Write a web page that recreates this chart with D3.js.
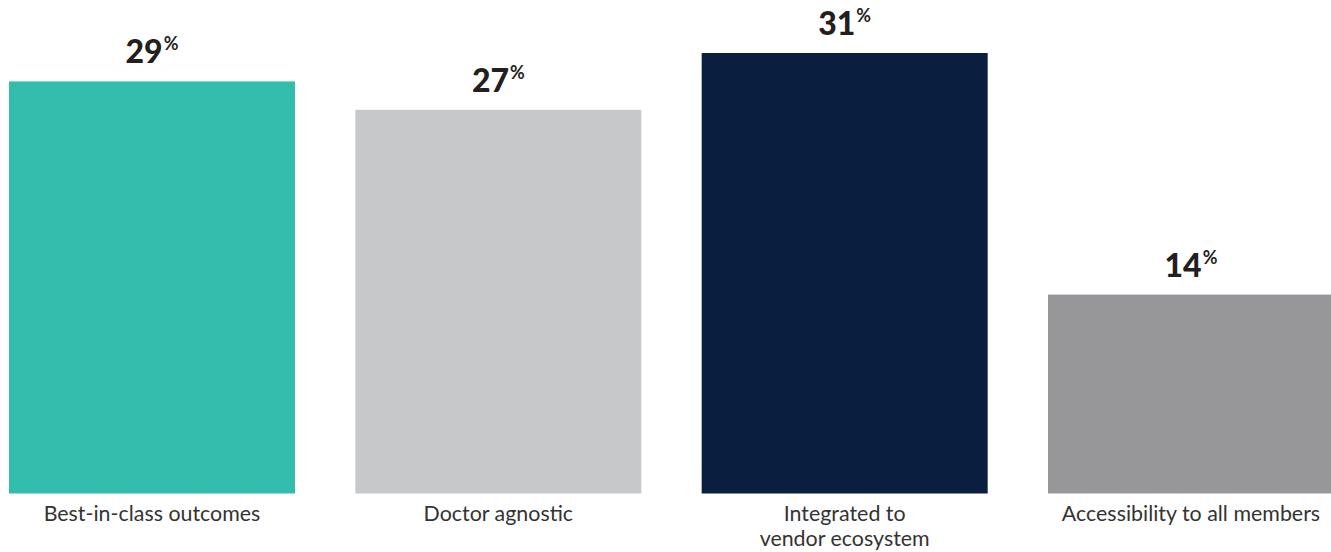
<!DOCTYPE html>
<html><head><meta charset="utf-8">
<script src="https://cdn.jsdelivr.net/npm/d3@7"></script>
<style>html,body{margin:0;padding:0;background:#fff;}svg{display:block;}</style>
</head><body>
<script>
const categories = ["Best-in-class outcomes", "Doctor agnostic", "Integrated to\nvendor ecosystem", "Accessibility to all members"];
const values = [29, 27, 31, 14];
const colors = ["#33BDAD", "#C7C8CA", "#0A1E3F", "#97979A"];

const W = 1331, H = 552;
const svg = d3.select("body").append("svg").attr("width", W).attr("height", H);

const x = d3.scaleBand().domain(categories).range([9, 1334]).paddingInner(0.1742).paddingOuter(0);
const y = d3.scaleLinear().domain([0, 31]).range([493.5, 53]);
const bw = x.bandwidth();

svg.selectAll("rect.bar").data(values).join("rect")
  .attr("class", "bar")
  .attr("x", (d, i) => x(categories[i]))
  .attr("width", bw)
  .attr("y", d => y(d))
  .attr("height", d => y(0) - y(d))
  .attr("fill", (d, i) => colors[i]);

const vl = svg.selectAll("text.val").data(values).join("text")
  .attr("class", "val")
  .attr("x", (d, i) => x(categories[i]) + bw / 2)
  .attr("y", d => y(d) - 18)
  .attr("text-anchor", "middle")
  .attr("font-family", "Lato, 'Noto Sans', sans-serif")
  .attr("fill", "#231F20");
vl.append("tspan").attr("font-size", 32).attr("font-weight", 900).text(d => d);
vl.append("tspan").attr("font-size", 18).attr("font-weight", 700).attr("dy", -13).attr("dx", 1).text("%");

const cl = svg.selectAll("text.cat").data(categories).join("text")
  .attr("class", "cat")
  .attr("x", d => x(d) + bw / 2)
  .attr("y", 521)
  .attr("text-anchor", "middle")
  .attr("font-family", "Lato, 'Noto Sans', sans-serif")
  .attr("font-size", 21.4)
  .attr("fill", "#333333");
cl.selectAll("tspan").data(d => d.split("\n")).join("tspan")
  .attr("x", function() { return d3.select(this.parentNode).attr("x"); })
  .attr("dy", (d, i) => i === 0 ? 0 : 25)
  .text(d => d);
</script>
</body></html>
